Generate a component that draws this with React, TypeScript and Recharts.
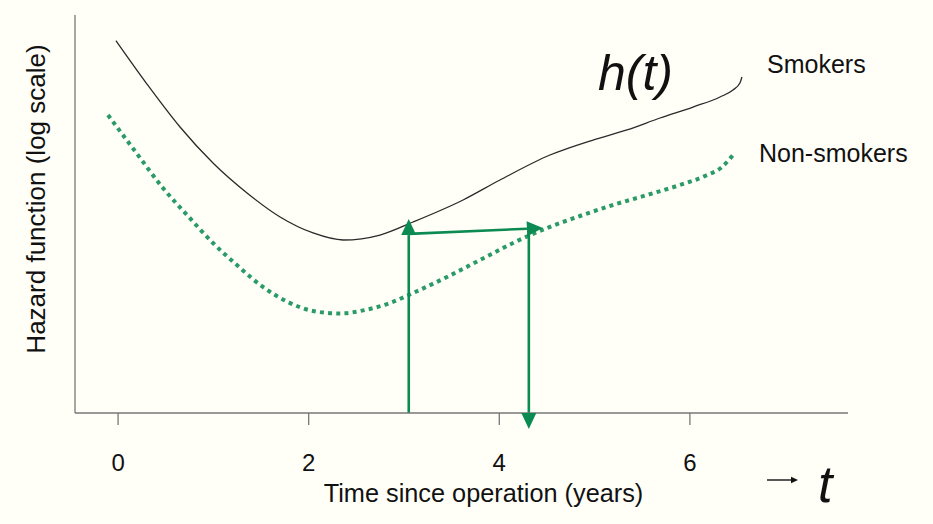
import { LineChart, Line, XAxis, YAxis } from "recharts";

// x = years since operation, y = log hazard (arbitrary units)
const smokersX = [-0.022, 0.303, 0.65, 0.996, 1.353, 1.7, 2.046, 2.361, 2.748, 3.095, 3.62, 4.007, 4.532, 4.983, 5.34, 5.686, 6.032, 6.316, 6.452, 6.525, 6.546];
const smokersY = [9.354, 8.266, 7.186, 6.281, 5.528, 4.925, 4.523, 4.347, 4.472, 4.799, 5.352, 5.854, 6.482, 6.859, 7.111, 7.412, 7.688, 7.94, 8.116, 8.291, 8.442];

const nonSmokersX = [-0.106, 0.177, 0.471, 0.733, 0.996, 1.258, 1.52, 1.783, 2.045, 2.328, 2.591, 2.853, 3.095, 3.451, 3.798, 4.144, 4.501, 4.847, 5.193, 5.55, 5.896, 6.158, 6.337, 6.452];
const nonSmokersY = [7.487, 6.583, 5.653, 4.95, 4.271, 3.693, 3.166, 2.789, 2.563, 2.5, 2.588, 2.764, 3.015, 3.417, 3.844, 4.271, 4.648, 4.95, 5.226, 5.477, 5.729, 5.955, 6.181, 6.482];

// the three arrows: up from t=3, across to the non-smokers curve, down to t≈4.3
const arrowUpX = [3.05, 3.05];
const arrowUpY = [0, 4.47];
const arrowAcrossX = [3.05, 4.29];
const arrowAcrossY = [4.5, 4.63];
const arrowDownX = [4.31, 4.31];
const arrowDownY = [4.62, 0];

const xTicks = [0, 2, 4, 6];

const FONT = '"Liberation Sans", Arial, Helvetica, sans-serif';
const GREEN = "#0b8a52";
const DOTTED = "#2a9a66";

function zip(xs: number[], ys: number[]) {
  return xs.map((x, i) => ({ x, y: ys[i] }));
}

const smokers = zip(smokersX, smokersY);
const nonSmokers = zip(nonSmokersX, nonSmokersY);
const arrowUp = zip(arrowUpX, arrowUpY);
const arrowAcross = zip(arrowAcrossX, arrowAcrossY);
const arrowDown = zip(arrowDownX, arrowDownY);

// arrow head drawn at the last point, pointing along the last segment
function makeArrowDot(n: number, fallbackAngle: number) {
  return (props: any) => {
    const { cx, cy, index, points } = props;
    if (index !== n - 1) return <g key={`ad-${index}`} />;
    let ang = fallbackAngle;
    if (points && points.length > 1) {
      const p = points[points.length - 2];
      ang = Math.atan2(cy - p.y, cx - p.x);
    }
    const len = 16;
    const half = 7.5;
    const tipX = cx + Math.cos(ang) * len;
    const tipY = cy + Math.sin(ang) * len;
    const nx = -Math.sin(ang) * half;
    const ny = Math.cos(ang) * half;
    const pts = `${tipX},${tipY} ${cx + nx},${cy + ny} ${cx - nx},${cy - ny}`;
    return <polygon key={`ad-${index}`} points={pts} fill={GREEN} stroke="none" />;
  };
}

const overlay = (left: number, top: number, size: number, italic = false): React.CSSProperties => ({
  position: "absolute",
  left,
  top,
  fontSize: size,
  lineHeight: 1,
  fontFamily: FONT,
  fontStyle: italic ? "italic" : "normal",
  color: "#111",
  whiteSpace: "nowrap",
});

export default function App() {
  return (
    <div style={{ position: "relative", width: 933, height: 524, background: "#fffff8" }}>
      <style>{"body{margin:0}"}</style>
      <LineChart width={933} height={524} margin={{ top: 15, right: 85, left: 0, bottom: 11 }}>
        <XAxis
          type="number"
          dataKey="x"
          domain={[-0.452, 7.659]}
          ticks={xTicks}
          allowDataOverflow
          height={100}
          stroke="#777"
          strokeWidth={1.3}
          tickSize={12}
          tickMargin={29}
          tick={{ fill: "#111", fontSize: 24, fontFamily: FONT }}
          label={{
            value: "Time since operation (years)",
            position: "insideBottom",
            offset: 11,
            dx: 22,
            fill: "#111",
            fontSize: 25.3,
            fontFamily: FONT,
          }}
        />
        <YAxis
          type="number"
          dataKey="y"
          domain={[0, 10]}
          width={75}
          tick={false}
          tickLine={false}
          stroke="#777"
          strokeWidth={1.3}
          label={{
            value: "Hazard function (log scale)",
            position: "center",
            angle: -90,
            dx: -2,
            dy: -15,
            fill: "#111",
            fontSize: 26,
            fontFamily: FONT,
          }}
        />
        <Line
          data={smokers}
          dataKey="y"
          type="monotone"
          stroke="#2a2a2a"
          strokeWidth={1.3}
          dot={false}
          isAnimationActive={false}
        />
        <Line
          data={nonSmokers}
          dataKey="y"
          type="monotone"
          stroke={DOTTED}
          strokeWidth={4}
          strokeDasharray="4 4.2"
          dot={false}
          isAnimationActive={false}
        />
        <Line
          data={arrowUp}
          dataKey="y"
          type="linear"
          stroke={GREEN}
          strokeWidth={2.6}
          dot={makeArrowDot(arrowUp.length, -Math.PI / 2)}
          activeDot={false}
          isAnimationActive={false}
        />
        <Line
          data={arrowAcross}
          dataKey="y"
          type="linear"
          stroke={GREEN}
          strokeWidth={2.6}
          dot={makeArrowDot(arrowAcross.length, -0.05)}
          activeDot={false}
          isAnimationActive={false}
        />
        <Line
          data={arrowDown}
          dataKey="y"
          type="linear"
          stroke={GREEN}
          strokeWidth={2.6}
          dot={makeArrowDot(arrowDown.length, Math.PI / 2)}
          activeDot={false}
          isAnimationActive={false}
        />
      </LineChart>
      <div style={overlay(598, 48, 50, true)}>h(t)</div>
      <div style={overlay(767, 52, 25)}>Smokers</div>
      <div style={overlay(759, 141, 25)}>Non-smokers</div>
      <svg style={{ position: "absolute", left: 764, top: 472 }} width={40} height={16}>
        <line x1={3} y1={8} x2={29} y2={8} stroke="#111" strokeWidth={1.4} />
        <polygon points="34,8 27,4.8 27,11.2" fill="#111" />
      </svg>
      <div style={overlay(818, 458, 52, true)}>t</div>
    </div>
  );
}
